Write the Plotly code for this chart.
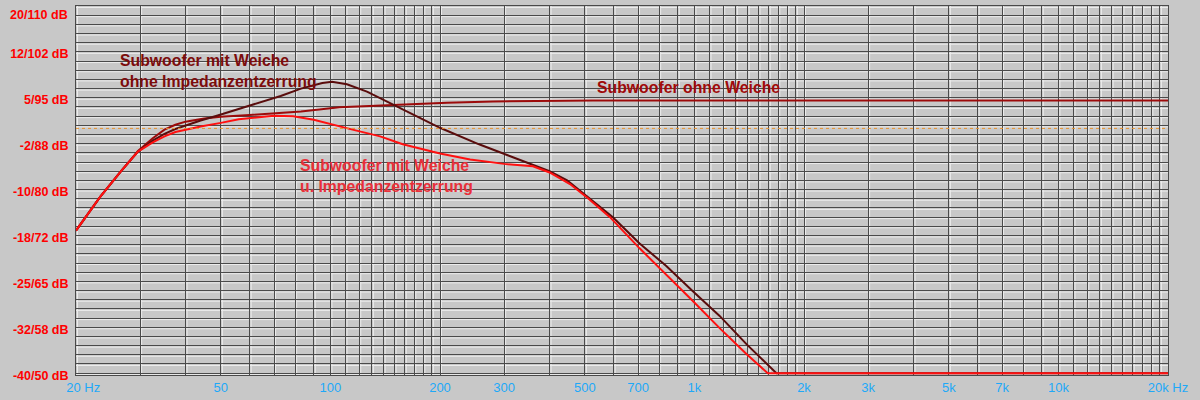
import math
import plotly.graph_objects as go

# Frequenzgang (Hz / dB)
ow_freq = [20, 23.3, 26.6, 29.6, 32.5, 35, 37.5, 40, 45, 50, 60, 70, 83, 106, 143, 176, 209, 280, 400, 525, 1000, 20000]
ow_db = [-16.7, -11.2, -7.0, -3.7, -1.6, -0.2, 0.6, 1.1, 1.6, 1.9, 2.2, 2.5, 2.75, 3.45, 3.8, 4.1, 4.2, 4.4, 4.5, 4.55, 4.55, 4.55]

mw_freq = [20, 23.3, 26.6, 29.6, 32.5, 35, 37.5, 40, 44, 49, 60, 73, 83, 95, 101, 111, 126, 143, 162, 176, 200, 256, 306,
           376, 400, 447, 506, 596, 707, 837, 990, 1171, 1392, 1580, 1680, 20000]
mw_db = [-16.7, -11.2, -7.0, -3.8, -2.0, -0.9, -0.1, 0.5, 1.3, 2.1, 3.7, 5.3, 6.5, 7.4, 7.6, 7.2, 6.0, 4.4, 2.7, 1.7, 0.1, -2.6, -4.4,
         -6.4, -7.0, -8.5, -11.1, -14.5, -18.8, -22.5, -26.6, -30.6, -35.3, -38.5, -40, -40]

mi_freq = [20, 23.3, 26.6, 29.6, 32.5, 35, 37.5, 40, 44, 50, 56, 70, 79, 90, 101, 115, 137, 158, 200, 242, 300, 360,
           400, 455, 510, 586, 707, 839, 990, 1171, 1392, 1590, 20000]
mi_db = [-16.7, -11.2, -7.0, -3.8, -2.3, -1.3, -0.6, -0.2, 0.3, 0.9, 1.5, 2.05, 2.0, 1.4, 0.6, -0.2, -1.3, -2.6, -4.1, -5.1, -5.8, -6.2,
         -7.2, -9.1, -11.4, -14.5, -19.6, -23.9, -28.2, -32.6, -36.9, -40, -40]

ref_level = 0

x_tickvals = [20, 50, 100, 200, 300, 500, 700, 1000, 2000, 3000, 5000, 7000, 10000, 20000]
x_ticktext = ["&nbsp;&nbsp;&nbsp;&nbsp;20 Hz", "50", "100", "200", "300", "500", "700", "1k", "2k", "3k", "5k", "7k", "10k", "20k Hz"]
y_tickvals = [-40, -32.5, -25, -17.5, -10, -2.5, 5, 12.5, 20]
y_ticktext = ["-40/50 dB", "-32/58 dB", "-25/65 dB", "-18/72 dB", "-10/80 dB", "-2/88 dB", "5/95 dB", "12/102 dB", "20/110 dB"]

BG = "#c8c8c8"
GRID = "#4a4a4a"
GRID_LIGHT = "#ececec"

# Gitter: 2..10 je Dekade, plus 1.1..1.9 ab 100 Hz
grid_f = []
for dec in (10, 100, 1000, 10000):
    if dec >= 100:
        grid_f += [dec * (1 + k / 10) for k in range(1, 10)]
    grid_f += [dec * k for k in range(2, 11)]
grid_f = [f for f in grid_f if 20 <= f <= 20000]
grid_db = [-40 + 1.5 * i for i in range(41)]

fig = go.Figure()
fig.add_trace(go.Scatter(x=ow_freq, y=ow_db, mode="lines", line=dict(color="#9c0a0a", width=2), name="Subwoofer ohne Weiche"))
fig.add_trace(go.Scatter(x=mw_freq, y=mw_db, mode="lines", line=dict(color="#5a0c0c", width=2), name="mit Weiche ohne Impedanzentzerrung"))
fig.add_trace(go.Scatter(x=mi_freq, y=mi_db, mode="lines", line=dict(color="#ff1010", width=2), name="mit Weiche u. Impedanzentzerrung"))

fig.add_hline(y=ref_level, line=dict(color="#e8902a", width=1, dash="dot"))


def light_shapes(layer):
    out = []
    for f in grid_f:
        out.append(dict(type="line", xref="x", yref="paper", xsizemode="pixel", xanchor=f, x0=1.5, x1=1.5, y0=0, y1=1,
                        line=dict(color=GRID_LIGHT, width=1), layer=layer))
    for v in grid_db:
        out.append(dict(type="line", xref="paper", yref="y", ysizemode="pixel", yanchor=v, y0=-1.5, y1=-1.5, x0=0, x1=1,
                        line=dict(color=GRID_LIGHT, width=1), layer=layer))
    return out


try:
    fig.update_layout(shapes=list(fig.layout.shapes) + light_shapes("between"))
except ValueError:
    fig.update_layout(shapes=list(fig.layout.shapes) + light_shapes("below"))

lab_font = dict(family="Arial, Liberation Sans", size=15.8)
fig.add_annotation(x=math.log10(26.1), y=9.4, xref="x", yref="y", xanchor="left", yanchor="middle", align="left", showarrow=False,
                   text="<b>Subwoofer mit Weiche<br>ohne Impedanzentzerrung</b>", font=dict(color="#7c0c0c", **lab_font))
fig.add_annotation(x=math.log10(532), y=6.7, xref="x", yref="y", xanchor="left", yanchor="middle", showarrow=False,
                   text="<b>Subwoofer ohne Weiche</b>", font=dict(color="#a00a0a", **lab_font))
fig.add_annotation(x=math.log10(81.4), y=-7.8, xref="x", yref="y", xanchor="left", yanchor="middle", align="left", showarrow=False,
                   text="<b>Subwoofer mit Weiche<br>u. Impedanzentzerrung</b>", font=dict(color="#e8303a", **lab_font))

ytick_font = dict(family="Arial, Liberation Sans", size=12.5, color="#ff0000")
# oberstes Label sitzt unter der Oberkante
fig.add_annotation(x=0, y=y_tickvals[-1], xref="paper", yref="y", xanchor="right", yanchor="top", xshift=-6, showarrow=False,
                   text="<b>" + y_ticktext[-1] + "</b>", font=ytick_font)

fig.update_xaxes(type="log", range=[math.log10(20), math.log10(20000)],
                 tickvals=x_tickvals, ticktext=x_ticktext, ticks="",
                 tickfont=dict(family="Arial, Liberation Sans", size=13, color="#1ea8f8"),
                 showgrid=True, gridcolor=GRID, gridwidth=1,
                 minor=dict(tickvals=grid_f, showgrid=True, gridcolor=GRID, gridwidth=1, ticks=""),
                 showline=True, linecolor=GRID, linewidth=1, mirror=True, zeroline=False)
fig.update_yaxes(range=[-40.3, 20], tickvals=y_tickvals[:-1], ticktext=["<b>" + t + "</b>" for t in y_ticktext[:-1]], ticks="",
                 tickfont=ytick_font,
                 showgrid=True, gridcolor=GRID, gridwidth=1,
                 minor=dict(tickvals=grid_db, showgrid=True, gridcolor=GRID, gridwidth=1, ticks=""),
                 showline=True, linecolor=GRID, linewidth=1, mirror=True, zeroline=False,
                 ticklabelstandoff=4, ticklabelshift=2)

fig.update_layout(width=1200, height=400, margin=dict(l=76, r=32, t=5, b=24),
                  paper_bgcolor=BG, plot_bgcolor=BG, showlegend=False)

fig.write_html("out.html", config={"displayModeBar": False},
               post_script="document.body.style.margin='0';document.body.style.padding='0';")
